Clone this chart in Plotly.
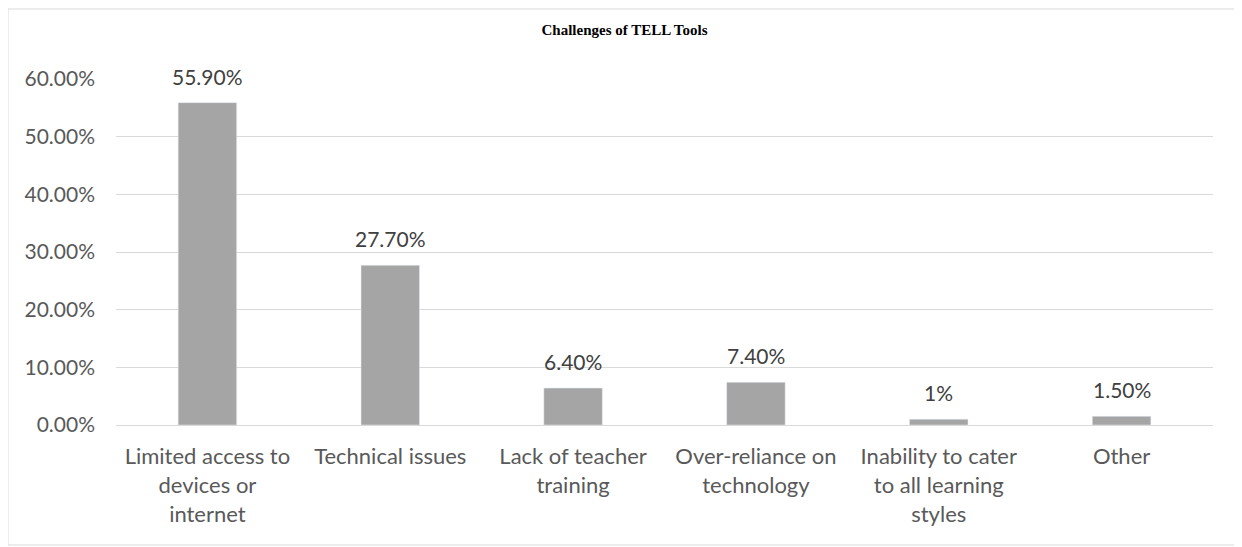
import plotly.graph_objects as go

# data
categories = [
    "Limited access to<br>devices or<br>internet",
    "Technical issues",
    "Lack of teacher<br>training",
    "Over-reliance on<br>technology",
    "Inability to cater<br>to all learning<br>styles",
    "Other",
]
values = [0.559, 0.277, 0.064, 0.074, 0.01, 0.015]
value_labels = ["55.90%", "27.70%", "6.40%", "7.40%", "1%", "1.50%"]
y_ticks = [0, 0.1, 0.2, 0.3, 0.4, 0.5, 0.6]
y_tick_labels = ["0.00%", "10.00%", "20.00%", "30.00%", "40.00%", "50.00%", "60.00%"]

# page has an 8px body margin, so figure is sized/offset for that
W, H = 1233, 538
L, R, T, B = 108, 28, 71, 121

fig = go.Figure(go.Bar(
    x=categories,
    y=values,
    marker=dict(color="#A5A5A5"),
    hoverinfo="x+y",
))

# data labels above bars
for c, v, t in zip(categories, values, value_labels):
    fig.add_annotation(
        x=c, y=v, text=t, showarrow=False,
        yanchor="bottom", yshift=12,
        font=dict(size=21, color="#404040"),
    )

# outer chart border
fig.add_shape(
    type="rect", xref="paper", yref="paper",
    x0=-L / (W - L - R), x1=1 + (R - 1) / (W - L - R),
    y0=-(B - 1) / (H - T - B), y1=1 + (T - 1) / (H - T - B),
    line=dict(color="#D9D9D9", width=1),
)

fig.update_layout(
    width=W, height=H,
    margin=dict(l=L, r=R, t=T, b=B),
    paper_bgcolor="white", plot_bgcolor="white",
    font=dict(family="Lato, Noto Sans, sans-serif", color="#595959", size=21),
    title=dict(
        text="<b>Challenges of TELL Tools</b>",
        font=dict(family="Liberation Serif, Times New Roman, serif", size=15, color="#000000"),
        x=0.5, xref="container", xanchor="center",
        y=1 - 22 / H, yanchor="middle",
    ),
    bargap=0.68,
    showlegend=False,
    xaxis=dict(
        showgrid=False, showline=True, linecolor="#D9D9D9", linewidth=1,
        ticks="", ticklabelstandoff=12,
        tickfont=dict(size=22, color="#595959"),
    ),
    yaxis=dict(
        range=[0, 0.6], tickvals=y_ticks, ticktext=y_tick_labels,
        showgrid=True, gridcolor="#D9D9D9", gridwidth=1,
        zeroline=False, showline=False, ticks="", ticklabelstandoff=20,
        tickfont=dict(size=21, color="#595959"),
    ),
)

fig.write_html("out.html")
